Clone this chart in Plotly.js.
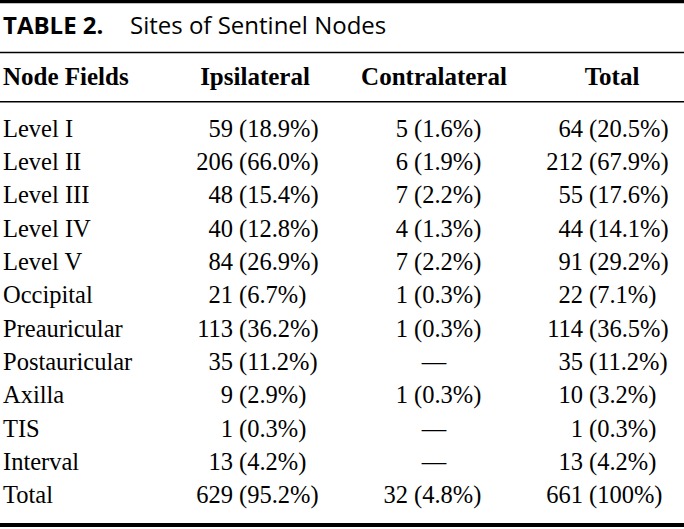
<!DOCTYPE html>
<html>
<head>
<meta charset="utf-8">
<script src="https://cdn.plot.ly/plotly-3.0.1.min.js"></script>
<style>html,body{margin:0;padding:0;background:#fff;}#chart{width:684px;height:529px;}</style>
</head>
<body>
<div id="chart"></div>
<script>
// ---- data ----
const titleLabel = 'TABLE 2.';
const titleText = 'Sites of Sentinel Nodes';
const headers = ['Node Fields', 'Ipsilateral', 'Contralateral', 'Total'];
const fields = ['Level I','Level II','Level III','Level IV','Level V','Occipital','Preauricular','Postauricular','Axilla','TIS','Interval','Total'];
const ipsiN   = [59, 206, 48, 40, 84, 21, 113, 35, 9, 1, 13, 629];
const ipsiPct = [18.9, 66.0, 15.4, 12.8, 26.9, 6.7, 36.2, 11.2, 2.9, 0.3, 4.2, 95.2];
const contraN   = [5, 6, 7, 4, 7, 1, 1, null, 1, null, null, 32];
const contraPct = [1.6, 1.9, 2.2, 1.3, 2.2, 0.3, 0.3, null, 0.3, null, null, 4.8];
const totalN   = [64, 212, 55, 44, 91, 22, 114, 35, 10, 1, 13, 661];
const totalPct = [20.5, 67.9, 17.6, 14.1, 29.2, 7.1, 36.5, 11.2, 3.2, 0.3, 4.2, 100];

// ---- layout constants ----
const W = 684, H = 529;
const serif = 'Liberation Serif, Times New Roman, serif';
const sans = 'Open Sans, sans-serif';
const FS = 24.5;
const firstRowY = 130.7, rowStep = 33.3;
const headerY = 79, titleY = 27.5;
const leftX = 3;
const headerCenters = [null, 255, 434, 612];
const parenX = [239, 414, 589];
const gap = 6;
const rowY = fields.map((_, i) => firstRowY + i * rowStep);
const fmtPct = v => (v === 100 ? '100' : v.toFixed(1));

const traces = [];
function textTrace(xs, ys, texts, pos, font) {
  traces.push({type: 'scatter', mode: 'text', x: xs, y: ys, text: texts,
    textposition: pos, textfont: font, hoverinfo: 'skip', cliponaxis: false});
}
const bodyFont = {family: serif, size: FS, color: '#000'};
const boldFont = {family: serif, size: 25, color: '#000', weight: 'bold'};

// title
textTrace([leftX], [titleY], [titleLabel], 'middle right', {family: sans, size: 24, color: '#000', weight: 'bold'});
textTrace([130], [titleY], [titleText], 'middle right', {family: sans, size: 24, color: '#000'});
// headers
textTrace([leftX], [headerY], [headers[0]], 'middle right', boldFont);
textTrace(headerCenters.slice(1), [headerY, headerY, headerY], headers.slice(1), 'middle center', boldFont);
// first column
textTrace(fields.map(() => leftX), rowY, fields, 'middle right', bodyFont);
// numeric columns
[[ipsiN, ipsiPct], [contraN, contraPct], [totalN, totalPct]].forEach(([ns, ps], c) => {
  const idx = ns.map((v, i) => i).filter(i => ns[i] !== null);
  const nul = ns.map((v, i) => i).filter(i => ns[i] === null);
  textTrace(idx.map(() => parenX[c] - gap), idx.map(i => rowY[i]), idx.map(i => String(ns[i])), 'middle left', bodyFont);
  textTrace(idx.map(() => parenX[c]), idx.map(i => rowY[i]), idx.map(i => '(' + fmtPct(ps[i]) + '%)'), 'middle right', bodyFont);
  if (nul.length) textTrace(nul.map(() => headerCenters[c + 1]), nul.map(i => rowY[i]), nul.map(() => '\u2014'), 'middle center', bodyFont);
});

const rule = (y, w) => ({type: 'line', xref: 'paper', yref: 'y', x0: 0, x1: 1, y0: y, y1: y, line: {color: '#000', width: w}});
const layout = {
  width: W, height: H,
  margin: {l: 0, r: 0, t: 0, b: 0},
  paper_bgcolor: '#fff', plot_bgcolor: '#fff',
  showlegend: false,
  xaxis: {range: [0, W], visible: false, fixedrange: true},
  yaxis: {range: [H, 0], visible: false, fixedrange: true},
  shapes: [rule(1.5, 3.5), rule(52.5, 1.5), rule(101.8, 1.5), rule(525, 4)]
};
Plotly.newPlot('chart', traces, layout, {staticPlot: true, displayModeBar: false});
</script>
</body>
</html>
